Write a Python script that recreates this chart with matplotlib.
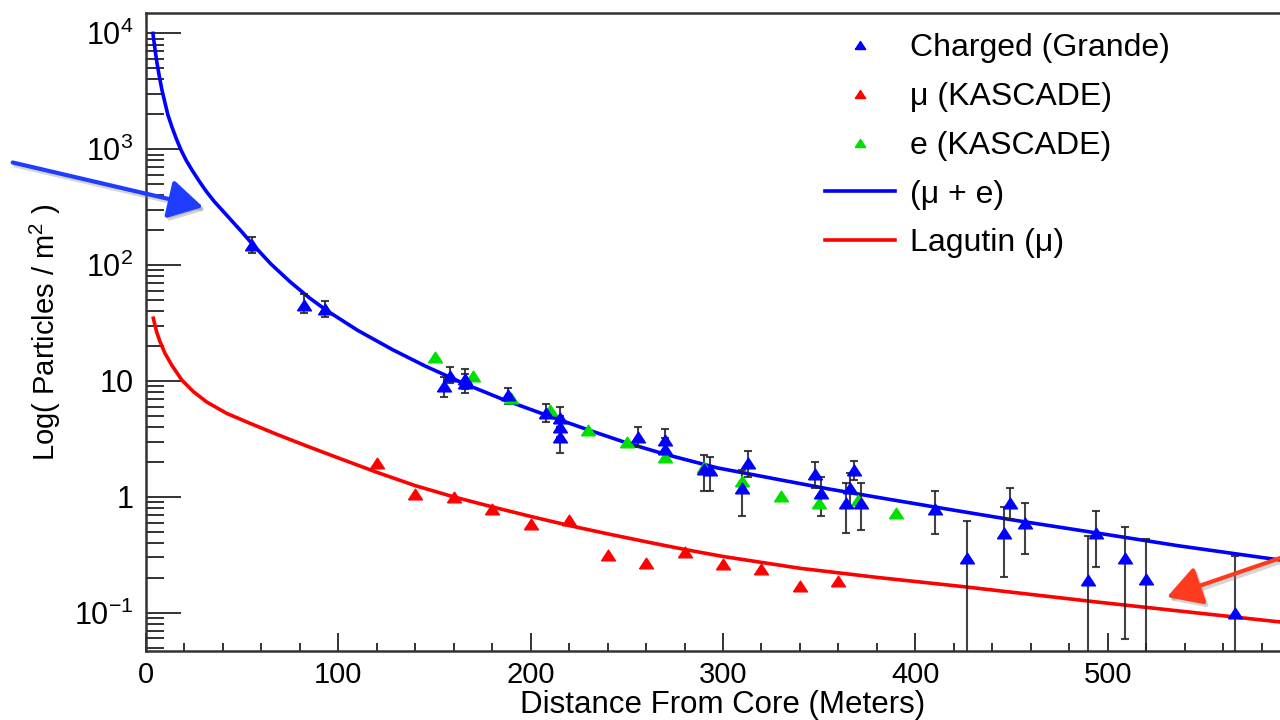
import matplotlib
matplotlib.use("Agg")
import matplotlib.pyplot as plt
import numpy as np
from matplotlib.lines import Line2D
from matplotlib.patches import FancyArrowPatch
from matplotlib.ticker import MultipleLocator, LogLocator, NullFormatter

plt.rcParams["font.family"] = ["Liberation Sans", "DejaVu Sans"]
plt.rcParams["mathtext.fontset"] = "custom"
plt.rcParams["mathtext.rm"] = "Liberation Sans"
plt.rcParams["mathtext.it"] = "Liberation Sans:italic"

# fitted curves
fit_x = [3.6, 4.7, 5.7, 6.8, 8.3, 9.9, 11.4, 13.5, 15.6, 18.2, 20.8, 23.9, 27.6, 31.2,
         35.3, 39.5, 44.7, 49.4, 55, 65, 75, 85, 94, 110, 128, 145, 165, 185, 205,
         230, 250, 270, 297, 330, 355, 380, 411, 451, 494, 537, 589, 600]
fit_total = [10000, 7240, 5560, 4370, 3240, 2505, 1974, 1555, 1250, 984, 807, 662, 532, 436,
             357, 299, 240, 197, 154, 102, 71.6, 52.1, 40.5, 27.4, 18.7, 13.5, 9.55, 7.0, 5.3,
             3.78, 2.92, 2.33, 1.78, 1.40, 1.17, 0.993, 0.813, 0.631, 0.489, 0.378, 0.286, 0.272]

lag_x = [3.8, 5.5, 7.3, 9.9, 13.4, 18.6, 24.6, 31.5, 41.9, 54.1, 67.9, 83.5, 98, 120, 140,
         160, 180, 200, 220, 240, 260, 280, 300, 340, 380, 425, 494, 589, 600]
lag_mu = [34.8, 26.6, 21.8, 17.3, 13.7, 10.2, 8.1, 6.6, 5.26, 4.31, 3.47, 2.75, 2.23, 1.63, 1.25,
          1.0, 0.82, 0.678, 0.566, 0.48, 0.41, 0.352, 0.306, 0.242, 0.202, 0.168, 0.124,
          0.0835, 0.0795]

# KASCADE muons and electrons
mu_x = [120, 140, 160, 180, 200, 220, 240, 260, 280, 300, 320, 340, 360]
mu_y = [1.95, 1.05, 1.0, 0.79, 0.58, 0.63, 0.315, 0.267, 0.337, 0.264, 0.239, 0.170, 0.188]

e_x = [150, 170, 190, 210, 230, 250, 270, 290, 310, 330, 350, 370, 390]
e_y = [16.2, 11.0, 7.1, 5.6, 3.8, 3.0, 2.2, 1.8, 1.38, 1.02, 0.89, 0.94, 0.73]

# Grande charged particles with error bar ends
ch_x = [55, 82, 93, 155, 158, 166, 166, 188, 208, 215, 215, 215, 256, 270, 270, 290, 293,
        310, 313, 348, 351, 366, 368, 364, 372, 410, 427, 446, 449, 457, 490, 494, 509, 520, 566]
ch_y = [149, 45, 42, 9.1, 11.1, 10.5, 9.6, 7.6, 5.3, 4.8, 4.0, 3.3, 3.3, 3.1, 2.6, 1.75, 1.7,
        1.2, 1.97, 1.58, 1.07, 1.19, 1.71, 0.88, 0.89, 0.79, 0.295, 0.485, 0.89, 0.59, 0.192,
        0.485, 0.295, 0.195, 0.099]
ch_lo = [126, 39, 35.5, 7.3, 9.6, 8.5, 7.8, 6.3, 4.4, 4.0, 3.3, 2.4, 2.7, 2.05, 2.05, 1.13, 1.13,
         0.68, 1.49, 1.2, 0.68, 0.8, 1.4, 0.49, 0.52, 0.475, 0.01, 0.205, 0.65, 0.32, 0.01,
         0.25, 0.059, 0.01, 0.01]
ch_hi = [176, 56, 49, 10.8, 13.3, 12.7, 11.5, 8.65, 6.3, 6.0, 5.0, 4.0, 4.03, 3.85, 3.2, 2.3, 2.2,
         1.71, 2.49, 2.01, 1.49, 1.6, 2.05, 1.31, 1.31, 1.13, 0.62, 0.82, 1.2, 0.89, 0.46,
         0.755, 0.547, 0.435, 0.309]

xtick_vals = [0, 100, 200, 300, 400, 500]
ytick_vals = [1e-1, 1, 10, 1e2, 1e3, 1e4]
ytick_labels = ["$10^{-1}$", "1", "10", "$10^{2}$", "$10^{3}$", "$10^{4}$"]

fig = plt.figure(figsize=(12.8, 7.2), dpi=100)
ax = fig.add_axes([146 / 1280, 69 / 720, 1154 / 1280, 637.7 / 720])

ax.plot(fit_x, fit_total, color="#0000ff", lw=2.6, zorder=2)
ax.plot(lag_x, lag_mu, color="#ff0000", lw=2.6, zorder=2)

tri = [(-1.3, -1), (1.3, -1), (0, 1), (-1.3, -1)]
ch_y = np.array(ch_y)
yerr = [ch_y - np.array(ch_lo), np.array(ch_hi) - ch_y]
ax.errorbar(ch_x, ch_y, yerr=yerr, fmt="none", ecolor="#222222", elinewidth=1.5,
            capsize=3, capthick=1.5, alpha=0.85, zorder=3)
ax.plot(e_x, e_y, ls="none", marker=tri, ms=10, color="#00e000", zorder=4)
ax.plot(mu_x, mu_y, ls="none", marker=tri, ms=10, color="#ff0000", zorder=4)
ax.plot(ch_x, ch_y, ls="none", marker=tri, ms=10, color="#0000ff", zorder=5)

ax.set_yscale("log")
ax.set_xlim(0, 600)
ax.set_ylim(10 ** -1.33, 10 ** 4.173)

ax.set_yticks(ytick_vals)
ax.set_yticklabels(ytick_labels)
ax.yaxis.set_minor_locator(LogLocator(base=10, subs=np.arange(2, 10)))
ax.yaxis.set_minor_formatter(NullFormatter())
ax.set_xticks(xtick_vals)
ax.xaxis.set_minor_locator(MultipleLocator(20))

ax.tick_params(axis="y", which="major", direction="in", length=25, width=1.4,
               labelsize=22, pad=9, color="#333333")
ax.tick_params(axis="y", which="minor", direction="in", length=13, width=1.4, color="#333333")
ax.tick_params(axis="x", which="major", direction="in", length=13, width=1.4,
               labelsize=21, pad=7.5, color="#333333")
ax.tick_params(axis="x", which="minor", direction="in", length=6, width=1.4, color="#333333")
for s in ax.spines.values():
    s.set_color("#333333")
    s.set_linewidth(1.8)

ax.set_xlabel("Distance From Core (Meters)", fontsize=22.5)
ax.xaxis.set_label_coords(0.5, -39 / 637.7)
ax.set_ylabel("Log( Particles / m$^{2}$ )", fontsize=21)
ax.yaxis.set_label_coords((63 - 146) / 1154, 0.5)

handles = [
    Line2D([], [], ls="none", marker=tri, ms=7.5, color="#0000ff"),
    Line2D([], [], ls="none", marker=tri, ms=7.5, color="#ff0000"),
    Line2D([], [], ls="none", marker=tri, ms=7.5, color="#00e000"),
    Line2D([], [], color="#0000ff", lw=2.6),
    Line2D([], [], color="#ff0000", lw=2.6),
]
labels = ["Charged (Grande)", "\u03bc (KASCADE)", "e (KASCADE)", "(\u03bc + e)", "Lagutin (\u03bc)"]
ax.legend(handles, labels, loc="upper left", bbox_to_anchor=(825 / 1280, 1 - 33 / 720),
          bbox_transform=fig.transFigure, frameon=False, fontsize=23, handlelength=2.2,
          handletextpad=0.45, labelspacing=0.59, borderpad=0, borderaxespad=0)

# annotation arrows with a soft shadow
for (tail, tip, col) in [((12.7, 162.5), (203, 207), "#1f3dff"),
                         ((1295, 553), (1167, 597), "#ff3b1f")]:
    for off, c, a in [((2.5, -3), "#888888", 0.35), ((0, 0), col, 1.0)]:
        p0 = ((tail[0] + off[0]) / 1280, 1 - (tail[1] - off[1]) / 720)
        p1 = ((tip[0] + off[0]) / 1280, 1 - (tip[1] - off[1]) / 720)
        arr = FancyArrowPatch(p0, p1, transform=fig.transFigure, color=c, alpha=a,
                              arrowstyle="-|>,head_length=1.4,head_width=0.8",
                              mutation_scale=15, lw=3, shrinkA=0, shrinkB=0)
        fig.add_artist(arr)

fig.savefig("out.png", dpi=100)
